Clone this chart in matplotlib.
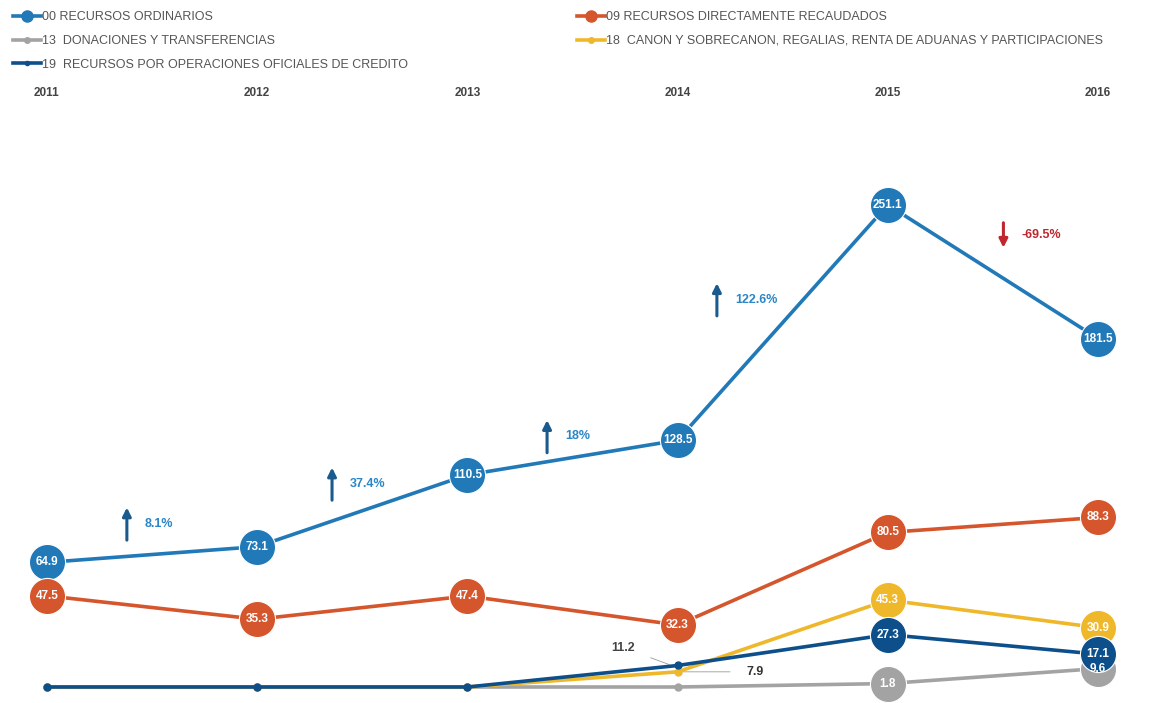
import matplotlib.pyplot as plt
from matplotlib.lines import Line2D

plt.rcParams['font.family'] = ['Liberation Sans', 'DejaVu Sans']

years = [2011, 2012, 2013, 2014, 2015, 2016]

names = [
    '00 RECURSOS ORDINARIOS',
    '09 RECURSOS DIRECTAMENTE RECAUDADOS',
    '13  DONACIONES Y TRANSFERENCIAS',
    '18  CANON Y SOBRECANON, REGALIAS, RENTA DE ADUANAS Y PARTICIPACIONES',
    '19  RECURSOS POR OPERACIONES OFICIALES DE CREDITO',
]
colors = ['#2179b8', '#d5552c', '#a3a3a3', '#efb82b', '#0d4f8b']

ordinarios = [64.9, 73.1, 110.5, 128.5, 251.1, 181.5]
directos = [47.5, 35.3, 47.4, 32.3, 80.5, 88.3]
donaciones = [0, 0, 0, 0, 1.8, 9.6]
canon = [0, 0, 0, 7.9, 45.3, 30.9]
credito = [0, 0, 0, 11.2, 27.3, 17.1]
series = [ordinarios, directos, donaciones, canon, credito]

# which points get a big labelled circle
bubbles = [
    [1, 1, 1, 1, 1, 1],
    [1, 1, 1, 1, 1, 1],
    [0, 0, 0, 0, 1, 1],
    [0, 0, 0, 0, 1, 1],
    [0, 0, 0, 0, 1, 1],
]

changes = ['8.1%', '37.4%', '18%', '122.6%', '-69.5%']
up = [True, True, True, True, False]
arrow_dx = [0.38, 0.356, 0.379, 0.187, 0.55]
arrow_dy = [16, 14, 11, 12, 19]

W, H = 1151, 703
fig = plt.figure(figsize=(W / 100, H / 100), dpi=100)
top_px = 105
ax = fig.add_axes([0, 0, 1, (H - top_px) / H])

px_per_year = 210.2
px_per_unit = 1.92
ax.set_xlim(2011 - 47 / px_per_year, 2016 + 53 / px_per_year)
ax.set_ylim(-16 / px_per_unit, (687 - top_px) / px_per_unit)

for i, (vals, col) in enumerate(zip(series, colors)):
    ax.plot(years, vals, color=col, lw=2.6, marker='o', ms=5, zorder=2 + i)
    for x, v, b in zip(years, vals, bubbles[i]):
        if b:
            ax.plot(x, v, 'o', ms=26, color=col, mec='white', mew=0.8, zorder=10 + 2 * i)
            ax.text(x, v, f'{v:.1f}', color='white', fontsize=8.5, fontweight='bold',
                    ha='center', va='center', zorder=30 if i == 2 else 11 + 2 * i)

# small labels for 2014 values of series 19 and 18
ax.annotate(f'{credito[3]:.1f}', xy=(2014 - 0.04, credito[3] + 0.5), xytext=(2013.74, 20.5),
            fontsize=9, fontweight='bold', color='#444444', ha='center', va='center',
            arrowprops=dict(arrowstyle='-', color='#999999', lw=0.6, shrinkA=10, shrinkB=0))
ax.annotate(f'{canon[3]:.1f}', xy=(2014 + 0.02, canon[3]), xytext=(2014.37, canon[3]),
            fontsize=9, fontweight='bold', color='#333333', ha='center', va='center',
            arrowprops=dict(arrowstyle='-', color='#999999', lw=0.6, shrinkA=10, shrinkB=0))

# growth arrows
for k in range(5):
    mid = (ordinarios[k] + ordinarios[k + 1]) / 2 + arrow_dy[k]
    x = years[k] + arrow_dx[k]
    half = 8.5 if up[k] else 6.5
    acol = '#1b5a8c' if up[k] else '#c0262d'
    tcol = '#2a86c6' if up[k] else '#c0262d'
    y0, y1 = (mid - half, mid + half) if up[k] else (mid + half, mid - half)
    ax.annotate('', xy=(x, y1), xytext=(x, y0),
                arrowprops=dict(arrowstyle='-|>,head_width=0.25,head_length=0.5',
                                color=acol, lw=2.2, shrinkA=0, shrinkB=0))
    ax.text(x + 0.085, mid, changes[k], color=tcol, fontsize=9, fontweight='bold',
            ha='left', va='center')

ax.set_xticks(years)
ax.set_xticklabels([str(y) for y in years], fontsize=8.5, fontweight='bold', color='#444444')
ax.xaxis.tick_top()
ax.tick_params(axis='x', length=0, pad=4)
ax.set_yticks([])
for s in ax.spines.values():
    s.set_visible(False)

handles = [Line2D([], [], color=c, lw=2.6, marker='o', ms=m)
           for c, m in zip(colors, [8, 8, 4, 4, 3])]
legend_kw = dict(loc='upper left', frameon=False, fontsize=9, labelcolor='#555555',
                 handlelength=2.2, handletextpad=0.1, labelspacing=0.95, borderaxespad=0)
fig.legend([handles[0], handles[2], handles[4]], [names[0], names[2], names[4]],
           bbox_to_anchor=(8 / W, 1 - 6 / H), **legend_kw)
fig.legend([handles[1], handles[3]], [names[1], names[3]],
           bbox_to_anchor=(572 / W, 1 - 6 / H), **legend_kw)

fig.savefig('out.png', dpi=100)
